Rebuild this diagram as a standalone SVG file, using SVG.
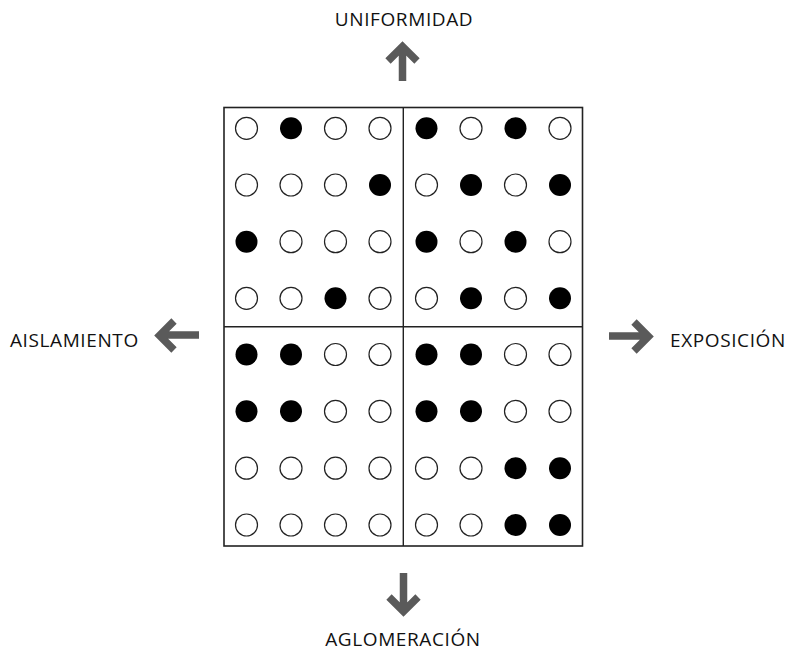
<svg xmlns="http://www.w3.org/2000/svg" width="790" height="652" viewBox="0 0 790 652">
  <style>
    .lbl { font-family: "Open Sans", "Noto Sans", sans-serif; font-size: 19px; fill: #111; letter-spacing: 0.6px; }
    .frame { fill: none; stroke: #222; stroke-width: 1.6; }
    .div { stroke: #222; stroke-width: 1.4; }
    .o { fill: #fff; stroke: #222; stroke-width: 1.2; }
    .f { fill: #000; }
    .arr { fill: none; stroke: #5a5a5a; stroke-width: 7.5; stroke-linejoin: miter; stroke-linecap: butt; }
  </style>
  <defs>
    <circle id="o" r="11" class="o"/>
    <circle id="f" r="11" class="f"/>
  </defs>

  <!-- axis labels -->
  <g id="label-up"><text class="lbl" x="404" y="26" text-anchor="middle">UNIFORMIDAD</text></g>
  <g id="label-down"><text class="lbl" x="403" y="646" text-anchor="middle">AGLOMERACIÓN</text></g>
  <g id="label-left"><text class="lbl" x="10" y="347">AISLAMIENTO</text></g>
  <g id="label-right"><text class="lbl" x="670" y="347">EXPOSICIÓN</text></g>

  <!-- direction arrows -->
  <g id="arrows">
    <path class="arr" d="M402.5 81 V48 M388 61 L402.5 46.5 L417 61"/>
    <path class="arr" d="M403.5 573 V610 M389 597 L403.5 611.5 L418 597"/>
    <path class="arr" d="M199 335 H161 M174 321 L159.5 335.5 L174 350"/>
    <path class="arr" d="M609 336 H647 M634 322 L648.5 336.5 L634 351"/>
  </g>

  <!-- grid frame -->
  <g id="grid">
    <rect class="frame" x="224" y="107.5" width="358.5" height="438.5"/>
    <line class="div" x1="403.3" y1="107.5" x2="403.3" y2="546"/>
    <line class="div" x1="224" y1="326.7" x2="582.5" y2="326.7"/>
  </g>

  <!-- top-left quadrant -->
  <g id="q-top-left">
    <use href="#o" x="246.5" y="128.3"/><use href="#f" x="291" y="128.3"/><use href="#o" x="335.5" y="128.3"/><use href="#o" x="380" y="128.3"/>
    <use href="#o" x="246.5" y="185"/><use href="#o" x="291" y="185"/><use href="#o" x="335.5" y="185"/><use href="#f" x="380" y="185"/>
    <use href="#f" x="246.5" y="241.7"/><use href="#o" x="291" y="241.7"/><use href="#o" x="335.5" y="241.7"/><use href="#o" x="380" y="241.7"/>
    <use href="#o" x="246.5" y="298.3"/><use href="#o" x="291" y="298.3"/><use href="#f" x="335.5" y="298.3"/><use href="#o" x="380" y="298.3"/>
  </g>

  <!-- top-right quadrant -->
  <g id="q-top-right">
    <use href="#f" x="426.5" y="128.3"/><use href="#o" x="471" y="128.3"/><use href="#f" x="515.5" y="128.3"/><use href="#o" x="560" y="128.3"/>
    <use href="#o" x="426.5" y="185"/><use href="#f" x="471" y="185"/><use href="#o" x="515.5" y="185"/><use href="#f" x="560" y="185"/>
    <use href="#f" x="426.5" y="241.7"/><use href="#o" x="471" y="241.7"/><use href="#f" x="515.5" y="241.7"/><use href="#o" x="560" y="241.7"/>
    <use href="#o" x="426.5" y="298.3"/><use href="#f" x="471" y="298.3"/><use href="#o" x="515.5" y="298.3"/><use href="#f" x="560" y="298.3"/>
  </g>

  <!-- bottom-left quadrant -->
  <g id="q-bottom-left">
    <use href="#f" x="246.5" y="354.5"/><use href="#f" x="291" y="354.5"/><use href="#o" x="335.5" y="354.5"/><use href="#o" x="380" y="354.5"/>
    <use href="#f" x="246.5" y="411.3"/><use href="#f" x="291" y="411.3"/><use href="#o" x="335.5" y="411.3"/><use href="#o" x="380" y="411.3"/>
    <use href="#o" x="246.5" y="468.2"/><use href="#o" x="291" y="468.2"/><use href="#o" x="335.5" y="468.2"/><use href="#o" x="380" y="468.2"/>
    <use href="#o" x="246.5" y="525"/><use href="#o" x="291" y="525"/><use href="#o" x="335.5" y="525"/><use href="#o" x="380" y="525"/>
  </g>

  <!-- bottom-right quadrant -->
  <g id="q-bottom-right">
    <use href="#f" x="426.5" y="354.5"/><use href="#f" x="471" y="354.5"/><use href="#o" x="515.5" y="354.5"/><use href="#o" x="560" y="354.5"/>
    <use href="#f" x="426.5" y="411.3"/><use href="#f" x="471" y="411.3"/><use href="#o" x="515.5" y="411.3"/><use href="#o" x="560" y="411.3"/>
    <use href="#o" x="426.5" y="468.2"/><use href="#o" x="471" y="468.2"/><use href="#f" x="515.5" y="468.2"/><use href="#f" x="560" y="468.2"/>
    <use href="#o" x="426.5" y="525"/><use href="#o" x="471" y="525"/><use href="#f" x="515.5" y="525"/><use href="#f" x="560" y="525"/>
  </g>
</svg>
